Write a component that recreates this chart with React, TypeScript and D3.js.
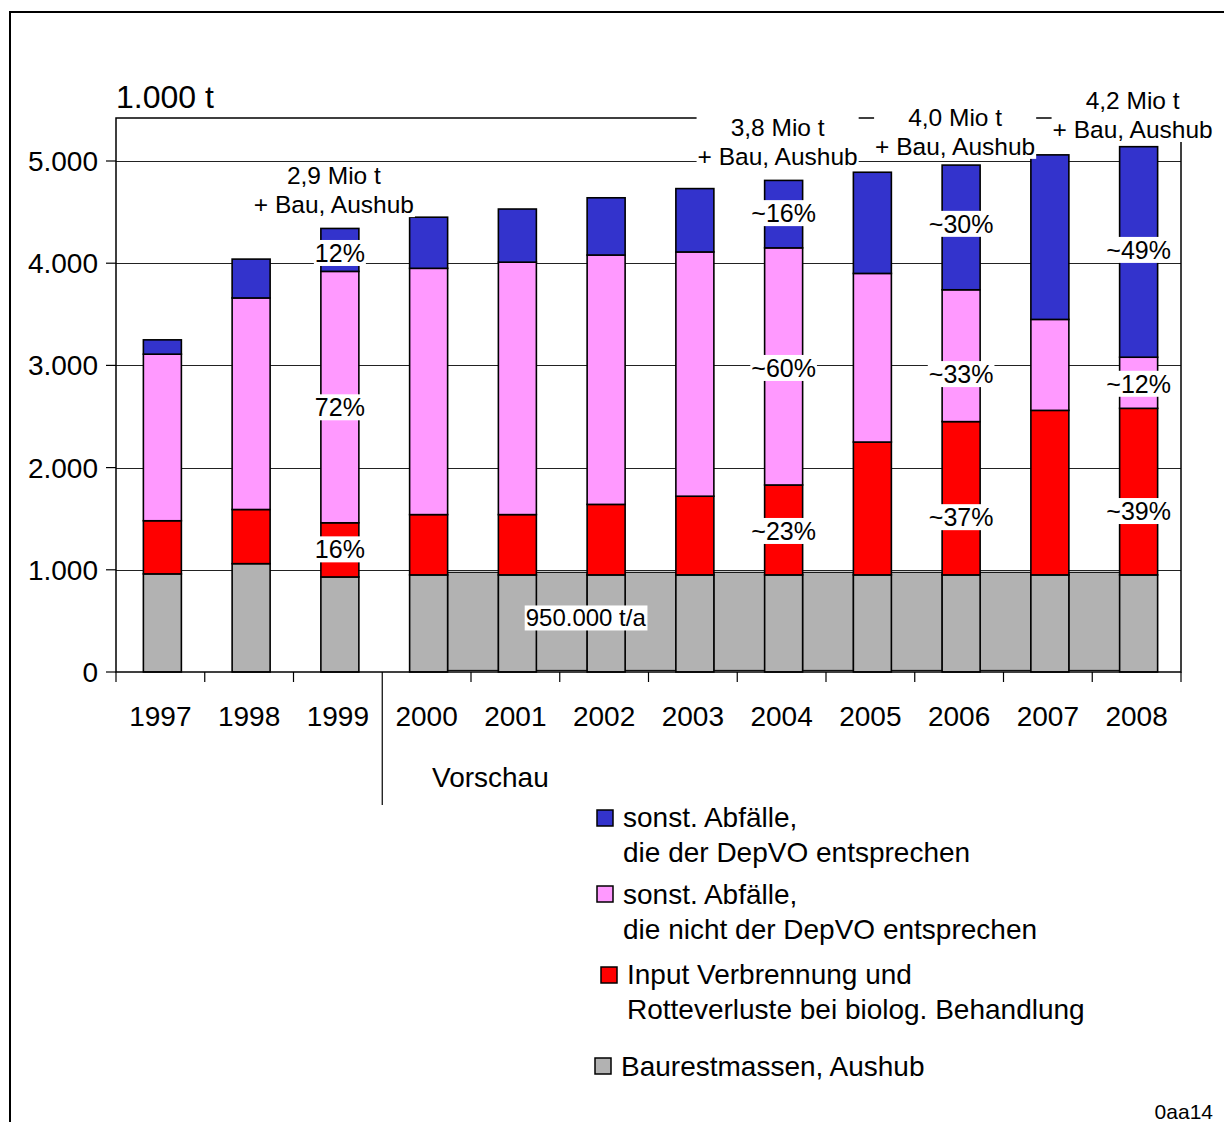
import React, { useEffect, useRef } from "react";
import * as d3 from "d3";

// Landfill quantities in 1.000 t per year, stacked bottom to top
const years = ["1997", "1998", "1999", "2000", "2001", "2002", "2003", "2004", "2005", "2006", "2007", "2008"];
const baurestmassen = [960, 1060, 930, 950, 950, 950, 950, 950, 950, 950, 950, 950];
const verbrennung = [520, 530, 530, 590, 590, 690, 770, 880, 1300, 1500, 1610, 1630];
const nichtDepVO = [1630, 2070, 2460, 2410, 2470, 2440, 2390, 2320, 1650, 1290, 890, 500];
const depVO = [140, 380, 420, 500, 520, 560, 620, 660, 990, 1220, 1610, 2060];

// Constant construction-waste band for the forecast years
const plateauYears = ["2000", "2001", "2002", "2003", "2004", "2005", "2006", "2007", "2008"];
const plateauValue = 950;
const plateauLabel = "950.000 t/a";
const plateauLabelValue = 530;

const yTicks = [0, 1000, 2000, 3000, 4000, 5000];

// Share labels placed inside the bars (value = vertical centre in 1.000 t)
const shareYears = ["1999", "1999", "1999", "2004", "2004", "2004", "2006", "2006", "2006", "2008", "2008", "2008"];
const shareValues = [4100, 2590, 1200, 4490, 2975, 1380, 4385, 2915, 1515, 4130, 2820, 1575];
const shareTexts = ["12%", "72%", "16%", "~16%", "~60%", "~23%", "~30%", "~33%", "~37%", "~49%", "~12%", "~39%"];

// Totals written above selected bars (value = baseline of the second line)
const totalYears = ["1999", "2004", "2006", "2008"];
const totalTexts = ["2,9 Mio t", "3,8 Mio t", "4,0 Mio t", "4,2 Mio t"];
const totalBaseValues = [4490, 4960, 5060, 5225];
const totalSecondLine = "+ Bau, Aushub";

const seriesKeys = ["baurest", "verbrennung", "nicht", "dep"];
const seriesColors = ["#b2b2b2", "#ff0000", "#ff99ff", "#3333cc"];

const legendLabels = [
  ["sonst. Abfälle,", "die der DepVO entsprechen"],
  ["sonst. Abfälle,", "die nicht der DepVO entsprechen"],
  ["Input Verbrennung und", "Rotteverluste bei biolog. Behandlung"],
  ["Baurestmassen, Aushub"],
];
const legendColors = ["#3333cc", "#ff99ff", "#ff0000", "#b2b2b2"];

const FONT = "'Liberation Sans', Arial, Helvetica, sans-serif";

export default function App() {
  const ref = useRef<SVGSVGElement | null>(null);

  useEffect(() => {
    const svg = d3.select(ref.current);
    svg.selectAll("*").remove();

    const W = 1224, H = 1122;
    const left = 116, right = 1181, top = 118, bottom = 672;

    const x = d3.scaleBand<string>().domain(years).range([left, right]).padding(0);
    const y = d3.scaleLinear().domain([0, 5000]).range([bottom, 161]);
    const barW = 38;
    const barX = (yr: string) => (x(yr) as number) + (x.bandwidth() - barW) / 2 + 2;
    const cx = (yr: string) => barX(yr) + barW / 2;

    const de = d3.formatLocale({ decimal: ",", thousands: ".", grouping: [3], currency: ["", " €"] });
    const fmt = de.format(",");

    svg.append("rect").attr("width", W).attr("height", H).attr("fill", "#fff");
    // outer frame
    svg.append("rect").attr("x", 10).attr("y", 12).attr("width", 1400).attr("height", 1400)
      .attr("fill", "none").attr("stroke", "#000").attr("stroke-width", 2);

    // gridlines
    svg.append("g").selectAll("line").data(yTicks.filter((t) => t > 0)).join("line")
      .attr("x1", left).attr("x2", right)
      .attr("y1", (d) => Math.round(y(d)) + 0.5).attr("y2", (d) => Math.round(y(d)) + 0.5)
      .attr("stroke", "#222").attr("stroke-width", 1);

    // construction waste band between forecast bars
    const gaps = plateauYears.slice(0, -1).map((yr, i) => [yr, plateauYears[i + 1]]);
    svg.append("g").selectAll("rect").data(gaps).join("rect")
      .attr("x", (d) => barX(d[0]) + barW)
      .attr("width", (d) => barX(d[1]) - barX(d[0]) - barW)
      .attr("y", y(plateauValue + 25))
      .attr("height", y(15) - y(plateauValue + 25))
      .attr("fill", "#b2b2b2").attr("stroke", "#111").attr("stroke-width", 1.2);

    // stacked bars
    const table = years.map((yr, i) => ({
      year: yr,
      baurest: baurestmassen[i],
      verbrennung: verbrennung[i],
      nicht: nichtDepVO[i],
      dep: depVO[i],
    }));
    const stack = d3.stack<any>().keys(seriesKeys)(table);
    const gBars = svg.append("g");
    stack.forEach((layer, li) => {
      gBars.append("g").selectAll("rect").data(layer).join("rect")
        .attr("x", (d: any) => barX(d.data.year))
        .attr("width", barW)
        .attr("y", (d: any) => y(d[1]))
        .attr("height", (d: any) => y(d[0]) - y(d[1]))
        .attr("fill", seriesColors[li])
        .attr("stroke", "#000").attr("stroke-width", 1.6);
    });

    // plot frame
    svg.append("rect").attr("x", left).attr("y", top).attr("width", right - left).attr("height", bottom - top)
      .attr("fill", "none").attr("stroke", "#000").attr("stroke-width", 1.5);

    // y axis ticks and labels
    const gy = svg.append("g");
    gy.selectAll("line").data(yTicks).join("line")
      .attr("x1", left - 10).attr("x2", left)
      .attr("y1", (d) => y(d)).attr("y2", (d) => y(d))
      .attr("stroke", "#000").attr("stroke-width", 1.2);
    gy.selectAll("text").data(yTicks).join("text")
      .attr("x", 98).attr("y", (d) => y(d)).attr("dy", "0.36em")
      .attr("text-anchor", "end").attr("font-family", FONT).attr("font-size", 28)
      .text((d) => fmt(d));

    svg.append("text").attr("x", 116).attr("y", 108).attr("font-family", FONT).attr("font-size", 32)
      .text("1.000 t");

    // x axis ticks on category boundaries
    const bounds = years.map((yr) => x(yr) as number).concat([right]);
    svg.append("g").selectAll("line").data(bounds).join("line")
      .attr("x1", (d) => d).attr("x2", (d) => d)
      .attr("y1", bottom).attr("y2", (d, i) => (i === 3 ? 805 : bottom + 10))
      .attr("stroke", "#000").attr("stroke-width", 1.2);
    svg.append("g").selectAll("text").data(years).join("text")
      .attr("x", (d) => (x(d) as number) + x.bandwidth() / 2).attr("y", 726)
      .attr("text-anchor", "middle").attr("font-family", FONT).attr("font-size", 28)
      .text((d) => d);
    svg.append("text").attr("x", 432).attr("y", 787).attr("font-family", FONT).attr("font-size", 28)
      .text("Vorschau");

    // boxed label helper
    const boxed = (g: any, pad: number) => {
      const bb = (g.node() as SVGGElement).getBBox();
      g.insert("rect", ":first-child")
        .attr("x", bb.x - pad).attr("y", bb.y + 1).attr("width", bb.width + pad * 2).attr("height", bb.height - 2)
        .attr("fill", "#fff");
    };

    // plateau label
    const gp = svg.append("g");
    gp.append("text").attr("x", (x("2002") as number) + 26).attr("y", y(plateauLabelValue)).attr("dy", "0.36em")
      .attr("text-anchor", "middle").attr("font-family", FONT).attr("font-size", 24).text(plateauLabel);
    boxed(gp, 1);

    // share labels
    shareTexts.forEach((t, i) => {
      const g = svg.append("g");
      g.append("text").attr("x", cx(shareYears[i])).attr("y", y(shareValues[i])).attr("dy", "0.36em")
        .attr("text-anchor", "middle").attr("font-family", FONT).attr("font-size", 25).text(t);
      boxed(g, 1);
    });

    // totals above bars
    totalTexts.forEach((t, i) => {
      const g = svg.append("g");
      const bx = cx(totalYears[i]) - 6;
      const by = y(totalBaseValues[i]);
      g.append("text").attr("x", bx).attr("y", by - 29).attr("text-anchor", "middle")
        .attr("font-family", FONT).attr("font-size", 24.5).text(t);
      g.append("text").attr("x", bx).attr("y", by).attr("text-anchor", "middle")
        .attr("font-family", FONT).attr("font-size", 24.5).text(totalSecondLine);
      boxed(g, 1);
    });

    // legend
    const legendSquares = [[597, 810], [597, 886], [601, 967], [595, 1058]];
    const legendText = [[623, 827], [623, 904], [627, 984], [621, 1076]];
    legendLabels.forEach((lines, i) => {
      svg.append("rect").attr("x", legendSquares[i][0]).attr("y", legendSquares[i][1])
        .attr("width", 16).attr("height", 16).attr("fill", legendColors[i])
        .attr("stroke", "#000").attr("stroke-width", 1.5);
      lines.forEach((ln, j) => {
        svg.append("text").attr("x", legendText[i][0]).attr("y", legendText[i][1] + j * 35)
          .attr("font-family", FONT).attr("font-size", 28).text(ln);
      });
    });

    svg.append("text").attr("x", 1213).attr("y", 1119).attr("text-anchor", "end")
      .attr("font-family", FONT).attr("font-size", 21).text("0aa14");
  }, []);

  return (
    <svg ref={ref} width={1224} height={1122}
      style={{ position: "absolute", left: 0, top: 0, display: "block" }} />
  );
}
